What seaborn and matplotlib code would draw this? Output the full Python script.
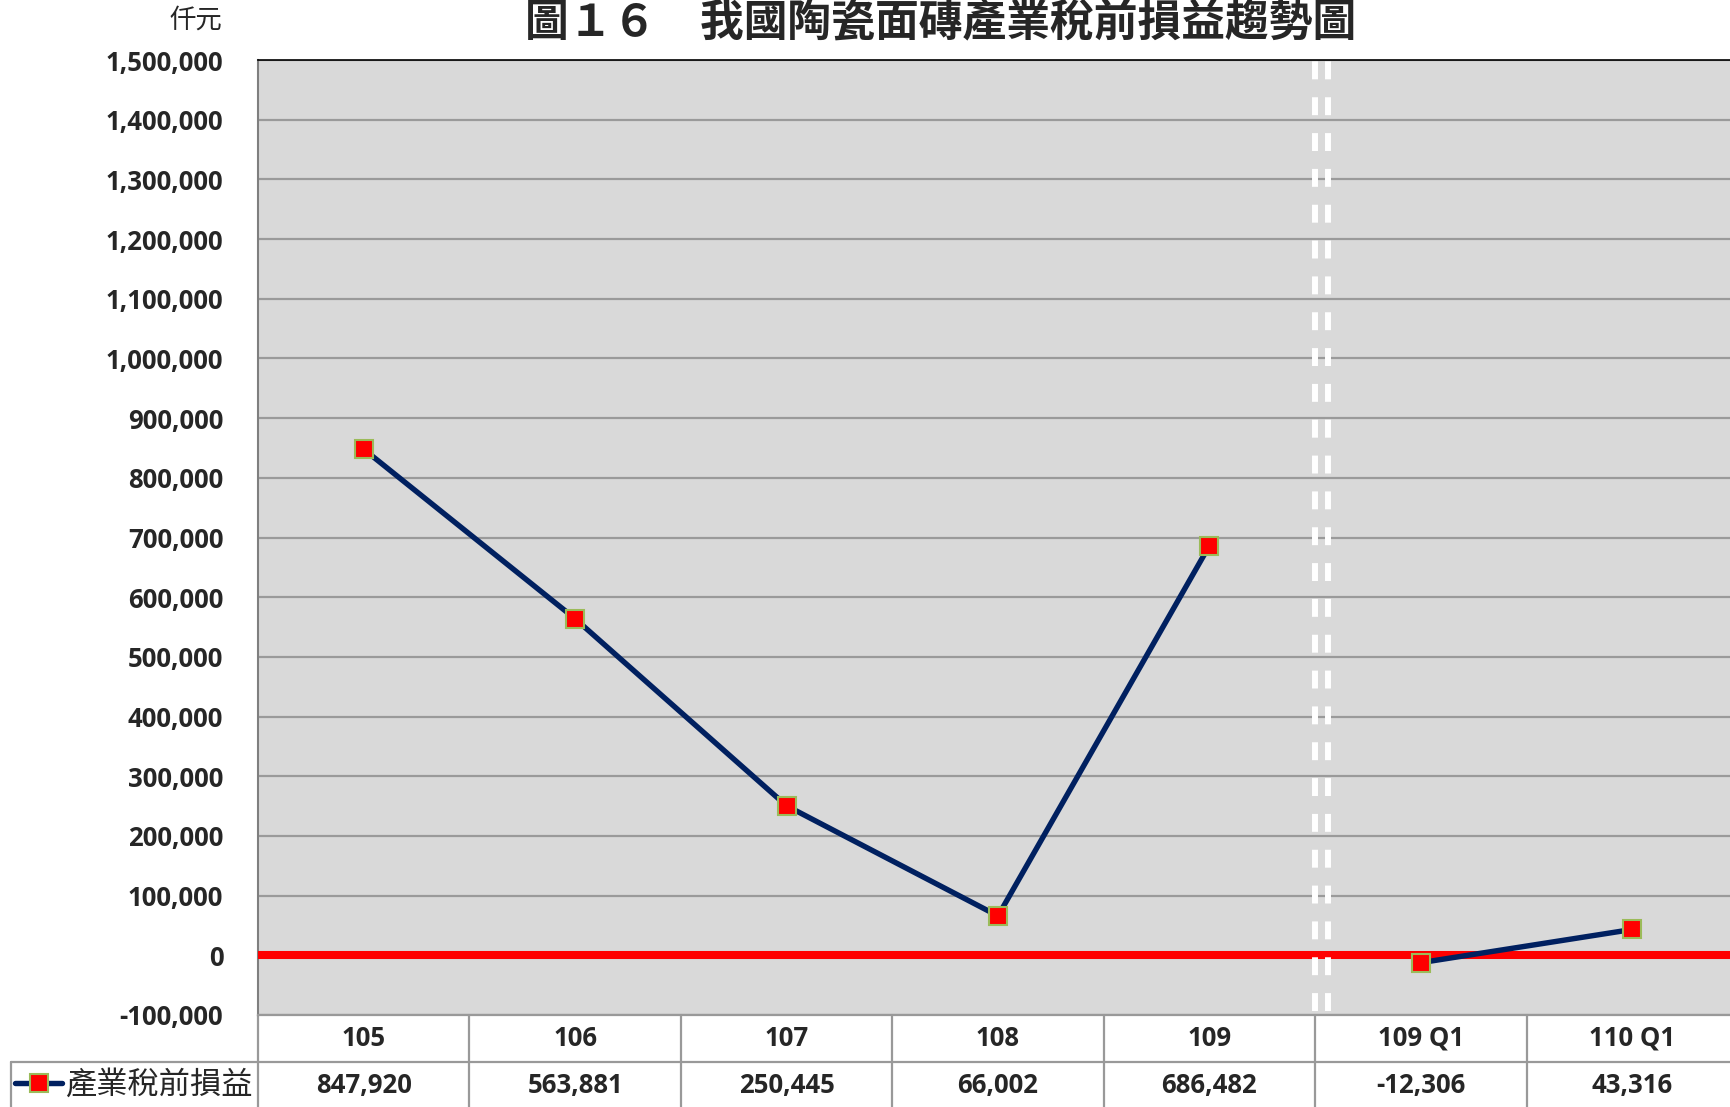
import matplotlib
matplotlib.use("Agg")
import pandas as pd
import seaborn as sns
import matplotlib.pyplot as plt
import matplotlib.transforms as mtransforms
from matplotlib.ticker import FuncFormatter

# Data
categories = ["105", "106", "107", "108", "109", "109 Q1", "110 Q1"]
profit = [847920, 563881, 250445, 66002, 686482, -12306, 43316]
segment = ["annual", "annual", "annual", "annual", "annual", "quarter", "quarter"]
yticks = list(range(-100000, 1500001, 100000))

df = pd.DataFrame({"pos": range(len(categories)), "profit": profit, "segment": segment})

sns.set_theme(style="white")
plt.rcParams["font.family"] = ["Open Sans", "Noto Sans CJK TC", "DejaVu Sans"]

W, H = 1730, 1107
fig = plt.figure(figsize=(W / 100, H / 100), dpi=100)
left, right, top, bottom = 258, 1738, 60, 1015   # plot runs slightly past the right edge
ax = fig.add_axes([left / W, 1 - bottom / H, (right - left) / W, (bottom - top) / H])
ax.set_facecolor("#D9D9D9")

# series (broken between annual and quarterly values)
sns.lineplot(data=df, x="pos", y="profit", units="segment", estimator=None,
             color="#002060", lw=3.9, marker="s", markersize=13,
             markerfacecolor="#FF0000", markeredgecolor="#9BBB59",
             markeredgewidth=1.5, ax=ax, zorder=6, legend=False)

# zero line
ax.axhline(0, color="#FF0000", lw=5.8, zorder=5)

# divider between annual and quarterly
for dx in (-0.03, 0.03):
    ax.axvline(4.53 + dx, ymin=0.004, ymax=1.006, color="white", lw=4.3,
               dashes=(3.0, 3.0), clip_on=False, zorder=7)

ax.set_xlim(-0.5, len(categories) - 0.5)
ax.set_ylim(-100000, 1500000)
ax.set_yticks(yticks)
ax.yaxis.set_major_formatter(FuncFormatter(lambda v, p: f"{v:,.0f}"))
ax.tick_params(axis="y", length=0, pad=25, labelsize=18.5)
for t in ax.get_yticklabels():
    t.set_fontweight("bold")
ax.set_xticks([])
ax.set_xlabel("")
ax.set_ylabel("")
ax.yaxis.grid(True, color="#9A9A9A", lw=1.6)
ax.set_axisbelow(True)

ax.spines["top"].set_color("black")
ax.spines["top"].set_linewidth(1.2)
ax.spines["right"].set_visible(False)
ax.spines["left"].set_color("#7F7F7F")
ax.spines["left"].set_linewidth(1.5)
ax.spines["bottom"].set_color("#999999")
ax.spines["bottom"].set_linewidth(1.6)

# data table under the plot
row1 = -(1062 - 1015) / (bottom - top)
row2 = -(1107 - 1015) / (bottom - top)
leg_left = (11 - left) / (right - left)
trans = mtransforms.blended_transform_factory(ax.transData, ax.transAxes)
grid_kw = dict(color="#999999", lw=1.6, clip_on=False)

for i, (cat, val) in enumerate(zip(categories, profit)):
    ax.text(i, row1 / 2, cat, transform=trans, ha="center", va="center",
            fontsize=18.5, fontweight="bold")
    ax.text(i, (row1 + row2) / 2 - 0.001, f"{val:,}", transform=trans, ha="center",
            va="center", fontsize=18.5, fontweight="bold")
    if i > 0:
        ax.plot([i - 0.5, i - 0.5], [0, row2 - 0.01], transform=trans, **grid_kw)

ax.plot([0, 0], [0, row2 - 0.01], transform=ax.transAxes, **grid_kw)
ax.plot([leg_left, 1], [row1, row1], transform=ax.transAxes, **grid_kw)
ax.plot([leg_left, leg_left], [row1, row2 - 0.01], transform=ax.transAxes, **grid_kw)

# legend key inside the table
ax.legend(handles=[ax.lines[0]], labels=["產業稅前損益"], loc="center left",
          bbox_to_anchor=(leg_left + 0.003, (row1 + row2) / 2),
          frameon=False, borderaxespad=0, borderpad=0, handlelength=1.5,
          handletextpad=0.1, prop={"family": ["Noto Sans CJK TC"], "size": 22.5})

# titles
fig.text(0.544, 0.999, "圖１６　我國陶瓷面磚產業稅前損益趨勢圖",
         ha="center", va="top", fontsize=31.5, fontweight="bold",
         family=["Noto Sans CJK TC", "DejaVu Sans"])
fig.text(222 / W, 1 - 20 / H, "仟元", ha="right", va="center", fontsize=19,
         family=["Noto Sans CJK TC", "DejaVu Sans"])

fig.savefig("out.png", dpi=100)
